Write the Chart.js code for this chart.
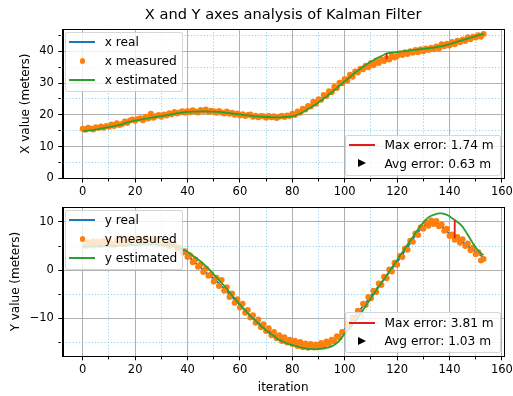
<!DOCTYPE html>
<html>
<head>
<meta charset="utf-8">
<script src="https://cdn.jsdelivr.net/npm/chart.js@4.4.1/dist/chart.umd.min.js"></script>
<style>
  html, body { margin: 0; padding: 0; background: #fff; }
  #wrap { position: relative; width: 513px; height: 396px; overflow: hidden; font-family: "DejaVu Sans", sans-serif; }
  canvas { position: absolute; left: 0; }
  .legend { position: absolute; box-sizing: border-box; background: rgba(255,255,255,0.8); border: 1px solid rgba(204,204,204,0.8); border-radius: 3px; }
  .row { position: absolute; left: 0; right: 0; height: 0; }
  .row .line { position: absolute; left: 3px; width: 25.5px; height: 2px; top: -1px; }
  .row .dot { position: absolute; left: 13.5px; width: 5.5px; height: 5.5px; top: -2.75px; border-radius: 50%; }
  .row .tri { position: absolute; left: 12.3px; top: -4.5px; width: 0; height: 0; border-top: 4.5px solid transparent; border-bottom: 4.5px solid transparent; border-left: 8px solid #000; }
  .row .txt { position: absolute; left: 38.5px; top: 0; transform: translateY(-50%); font-size: 12.2px; line-height: 14px; white-space: nowrap; color: #000; }
</style>
</head>
<body>
<div id="wrap">
  <canvas id="xChart" width="513" height="196" style="top:0"></canvas>
  <canvas id="yChart" width="513" height="200" style="top:196px"></canvas>
</div>
<script>
// tick values (iterations on x, metres on y)
const ITER_MAJOR = [0, 20, 40, 60, 80, 100, 120, 140, 160];
const ITER_MINOR = [10, 30, 50, 70, 90, 110, 130, 150];
const X_MAJOR = [0, 10, 20, 30, 40];
const X_MINOR = [5, 15, 25, 35, 45];
const Y_MAJOR = [-10, 0, 10];
const Y_MINOR = [-15, -5, 5];

const X_AVG_ERR = 0.63;
const Y_AVG_ERR = 1.03;

// X position, one value per iteration
const xReal = [
  15.3, 15.4, 15.5, 15.6, 15.7, 15.8, 15.9, 16.0, 16.1, 16.3,
  16.4, 16.6, 16.8, 16.9, 17.1, 17.3, 17.5, 17.7, 17.9, 18.1,
  18.3, 18.4, 18.6, 18.7, 18.9, 19.0, 19.1, 19.2, 19.4, 19.5,
  19.6, 19.8, 19.9, 20.1, 20.2, 20.4, 20.5, 20.6, 20.7, 20.8,
  20.9, 21.0, 21.0, 21.1, 21.1, 21.1, 21.1, 21.1, 21.1, 21.0,
  21.0, 20.9, 20.8, 20.8, 20.7, 20.6, 20.5, 20.4, 20.2, 20.1,
  20.0, 19.9, 19.8, 19.7, 19.7, 19.6, 19.5, 19.5, 19.4, 19.4,
  19.3, 19.3, 19.3, 19.3, 19.3, 19.3, 19.4, 19.5, 19.6, 19.7,
  19.9, 20.2, 20.6, 21.0, 21.5, 22.0, 22.5, 23.0, 23.5, 24.0,
  24.5, 25.1, 25.7, 26.3, 26.9, 27.6, 28.2, 28.9, 29.5, 30.2,
  30.8, 31.4, 32.0, 32.6, 33.1, 33.6, 34.1, 34.6, 35.0, 35.4,
  35.8, 36.2, 36.5, 36.8, 37.1, 37.35, 37.6, 37.9, 38.2, 38.5,
  38.8, 39.0, 39.2, 39.4, 39.6, 39.8, 39.9, 40.0, 40.1, 40.3,
  40.4, 40.5, 40.6, 40.7, 40.9, 41.0, 41.2, 41.4, 41.6, 41.8,
  42.0, 42.3, 42.5, 42.8, 43.0, 43.3, 43.5, 43.8, 44.0, 44.3,
  44.5, 44.7, 45.0, 45.2
];
const xMeasured = [
  15.6, 15.3, 15.9, 15.7, 15.4, 16.1, 15.8, 16.3, 15.9, 16.5,
  16.2, 16.9, 16.5, 17.3, 16.8, 17.1, 17.9, 17.4, 18.2, 18.5,
  18.1, 18.7, 18.9, 18.3, 19.4, 18.8, 20.3, 19.1, 19.6, 19.9,
  19.4, 20.1, 19.8, 20.5, 20.2, 20.9, 20.4, 20.7, 21.1, 20.6,
  21.2, 20.8, 21.4, 21.0, 20.7, 21.5, 21.2, 21.7, 20.9, 21.3,
  21.1, 20.6, 21.2, 20.7, 20.4, 21.0, 20.3, 20.6, 20.0, 20.4,
  19.8, 20.2, 19.6, 19.9, 20.1, 19.4, 19.7, 19.2, 19.6, 19.5,
  19.1, 19.6, 19.2, 19.5, 19.0, 19.4, 19.7, 19.3, 19.8, 19.6,
  20.3, 19.9, 21.0, 20.6, 21.9, 21.7, 22.8, 22.6, 24.1, 23.5,
  24.9, 24.7, 26.2, 25.9, 27.4, 27.1, 28.8, 28.4, 30.1, 29.9,
  31.3, 30.8, 32.6, 32.0, 33.6, 33.3, 34.5, 34.3, 35.4, 35.0,
  36.3, 35.6, 37.0, 36.3, 37.5, 36.9, 37.8, 37.4, 38.6, 38.0,
  38.5, 39.3, 38.8, 39.7, 39.1, 40.0, 39.5, 40.4, 39.7, 40.6,
  40.0, 40.9, 40.4, 41.1, 40.6, 41.5, 40.9, 42.2, 41.6, 42.4,
  41.8, 42.9, 42.2, 43.3, 42.8, 43.7, 43.2, 44.4, 43.8, 44.6,
  44.3, 45.0, 44.6, 45.4
];
const xEstimated = [
  14.8, 14.9, 15.0, 15.1, 15.2, 15.4, 15.5, 15.7, 15.8, 16.0,
  16.1, 16.3, 16.5, 16.6, 16.8, 17.0, 17.3, 17.6, 17.8, 18.0,
  18.2, 18.3, 18.5, 18.6, 18.8, 18.9, 19.1, 19.2, 19.3, 19.5,
  19.6, 19.7, 19.9, 20.0, 20.2, 20.3, 20.5, 20.6, 20.7, 20.8,
  20.9, 20.9, 21.0, 21.0, 21.0, 21.1, 21.1, 21.1, 21.0, 21.0,
  21.0, 20.9, 20.9, 20.8, 20.7, 20.6, 20.5, 20.4, 20.3, 20.2,
  20.1, 20.0, 19.9, 19.8, 19.7, 19.6, 19.5, 19.5, 19.4, 19.4,
  19.3, 19.3, 19.2, 19.2, 19.2, 19.2, 19.2, 19.3, 19.3, 19.4,
  19.5, 19.7, 20.0, 20.4, 20.8, 21.3, 21.8, 22.3, 22.8, 23.3,
  23.9, 24.5, 25.1, 25.7, 26.4, 27.0, 27.7, 28.4, 29.1, 29.8,
  30.5, 31.2, 31.9, 32.6, 33.3, 33.9, 34.5, 35.1, 35.7, 36.2,
  36.7, 37.2, 37.7, 38.1, 38.5, 38.9, 39.34, 39.45, 39.55, 39.65,
  39.75, 39.85, 39.95, 40.05, 40.15, 40.25, 40.35, 40.45, 40.55, 40.65,
  40.75, 40.85, 40.95, 41.05, 41.15, 41.3, 41.45, 41.6, 41.8, 42.0,
  42.25, 42.5, 42.75, 43.0, 43.25, 43.5, 43.75, 44.0, 44.25, 44.5,
  44.75, 45.0, 45.25, 45.5
];

// Y position, one value per iteration
const yReal = [
  5.3, 5.3, 5.4, 5.4, 5.5, 5.5, 5.5, 5.6, 5.6, 5.7,
  5.7, 5.7, 5.8, 5.8, 5.8, 5.9, 5.9, 5.9, 6.0, 6.0,
  6.0, 6.0, 6.1, 6.1, 6.1, 6.1, 6.1, 6.0, 6.0, 5.9,
  5.8, 5.7, 5.6, 5.4, 5.2, 5.0, 4.7, 4.3, 3.9, 3.5,
  3.0, 2.5, 2.0, 1.5, 1.0, 0.5, 0.0, -0.5, -0.9, -1.4,
  -1.8, -2.3, -2.8, -3.4, -3.9, -4.5, -5.1, -5.6, -6.2, -6.7,
  -7.3, -7.8, -8.4, -8.9, -9.5, -10.0, -10.5, -10.9, -11.4, -11.9,
  -12.3, -12.7, -13.1, -13.4, -13.7, -14.0, -14.3, -14.5, -14.7, -14.9,
  -15.0, -15.2, -15.3, -15.4, -15.5, -15.6, -15.7, -15.7, -15.8, -15.8,
  -15.7, -15.6, -15.5, -15.3, -15.1, -14.8, -14.5, -14.1, -13.6, -13.1,
  -12.4, -11.7, -11.0, -10.3, -9.6, -8.9, -8.2, -7.5, -6.8, -6.1,
  -5.4, -4.7, -4.0, -3.3, -2.6, -1.9, -1.2, -0.5, 0.2, 0.9,
  1.6, 2.4, 3.2, 4.0, 4.8, 5.6, 6.4, 7.2, 7.9, 8.5,
  9.0, 9.4, 9.7, 9.9, 10.0, 9.8, 9.5, 9.1, 8.6, 8.1,
  7.5, 7.0, 6.6, 6.4, 6.1, 5.8, 5.4, 5.0, 4.6, 4.2,
  3.8, 3.4, 3.0, 2.6
];
const yMeasured = [
  6.4, 5.0, 5.8, 5.1, 6.0, 5.3, 5.9, 5.2, 6.1, 5.4,
  6.2, 5.5, 5.2, 6.3, 5.6, 6.1, 5.4, 6.4, 5.8, 6.2,
  6.6, 5.7, 6.4, 5.9, 6.7, 6.3, 5.8, 6.5, 6.2, 5.4,
  6.2, 5.3, 5.9, 5.0, 5.6, 5.4, 4.4, 4.7, 3.6, 3.9,
  2.7, 3.1, 1.6, 2.2, 0.7, 1.2, -0.4, 0.3, -1.2, -0.9,
  -2.4, -1.6, -3.3, -2.1, -4.3, -3.6, -5.6, -4.9, -6.8, -6.1,
  -7.8, -7.0, -8.9, -8.3, -9.9, -9.4, -11.0, -10.3, -11.9, -11.3,
  -12.7, -12.1, -13.6, -12.9, -14.2, -13.6, -14.8, -14.0, -15.1, -14.5,
  -15.4, -14.7, -15.8, -15.0, -16.1, -15.3, -16.2, -15.4, -16.0, -15.5,
  -16.1, -15.2, -15.9, -14.9, -15.4, -14.5, -14.9, -13.8, -14.1, -12.9,
  -12.9, -11.3, -11.5, -9.9, -10.1, -8.5, -8.7, -7.0, -7.3, -5.6,
  -5.9, -4.3, -4.6, -2.8, -3.1, -1.4, -1.7, 0.1, -0.3, 1.5,
  1.1, 2.9, 2.7, 4.5, 4.2, 6.1, 5.9, 7.6, 7.3, 8.9,
  8.6, 9.9, 9.2, 10.3, 9.6, 10.2, 9.1, 9.5, 8.2, 8.6,
  7.1, 7.4, 6.3, 6.9, 5.7, 6.4, 5.0, 5.5, 4.1, 4.7,
  3.3, 3.7, 2.0, 2.3
];
const yEstimated = [
  4.8, 4.8, 4.9, 4.9, 4.9, 4.9, 4.9, 5.0, 5.0, 5.0,
  5.0, 5.0, 5.0, 5.1, 5.1, 5.1, 5.1, 5.1, 5.2, 5.2,
  5.2, 5.2, 5.3, 5.3, 5.3, 5.3, 5.3, 5.3, 5.3, 5.3,
  5.3, 5.2, 5.2, 5.1, 5.0, 4.9, 4.8, 4.6, 4.3, 4.1,
  3.8, 3.4, 3.0, 2.6, 2.2, 1.8, 1.3, 0.8, 0.3, -0.3,
  -0.9, -1.5, -2.1, -2.7, -3.3, -3.9, -4.6, -5.3, -5.9, -6.6,
  -7.2, -7.8, -8.4, -9.0, -9.6, -10.1, -10.6, -11.1, -11.6, -12.1,
  -12.6, -13.0, -13.4, -13.8, -14.2, -14.5, -14.8, -15.1, -15.3, -15.5,
  -15.6, -15.8, -15.9, -16.1, -16.2, -16.3, -16.4, -16.4, -16.5, -16.5,
  -16.4, -16.4, -16.3, -16.2, -16.1, -15.9, -15.6, -15.2, -14.7, -14.0,
  -13.2, -12.6, -12.0, -11.3, -10.6, -9.9, -9.1, -8.3, -7.5, -6.7,
  -5.9, -5.1, -4.3, -3.5, -2.7, -1.9, -1.1, -0.3, 0.5, 1.3,
  2.1, 2.9, 3.7, 4.5, 5.3, 6.1, 6.9, 7.7, 8.5, 9.2,
  9.9, 10.5, 11.0, 11.3, 11.5, 11.7, 11.8, 11.8, 11.7, 11.5,
  11.2, 10.78, 10.41, 10.0, 9.6, 9.0, 8.2, 7.3, 6.4, 5.5,
  4.7, 4.0, 3.5, 3.1
];

const BLUE = '#1f77b4';
const ORANGE = '#ff7f0e';
const GREEN = '#2ca02c';
const RED = '#e41a1c';
const MAJOR_GRID = '#b0b0b0';
const MINOR_GRID = 'rgba(120, 200, 230, 0.8)';

Chart.defaults.font.family = "'DejaVu Sans', sans-serif";
Chart.defaults.color = '#000';

const fmt = (v) => (v < 0 ? '\u2212' + Math.abs(v) : String(v));
const points = (values) => values.map((v, i) => ({ x: i, y: v }));

// iteration where the estimate is furthest from the true value
function maxError(real, est) {
  let best = 0;
  real.forEach((v, i) => {
    if (Math.abs(est[i] - v) > Math.abs(est[best] - real[best])) best = i;
  });
  return { index: best, value: Math.abs(est[best] - real[best]) };
}

function datasets(real, measured, est, err) {
  return [
    {
      data: [{ x: err.index, y: real[err.index] }, { x: err.index, y: est[err.index] }],
      showLine: true, borderColor: RED, borderWidth: 1.8, pointRadius: 0, order: 0,
    },
    { data: points(est), showLine: true, borderColor: GREEN, borderWidth: 1.8, pointRadius: 0, order: 1 },
    {
      data: points(measured), showLine: false, pointRadius: 3, pointBorderWidth: 0,
      pointBackgroundColor: ORANGE, order: 2,
    },
    { data: points(real), showLine: true, borderColor: BLUE, borderWidth: 1.8, pointRadius: 0, order: 3 },
  ];
}

function gridAxis(major, minor, opts) {
  const isMinor = (ctx) => !!ctx.tick && minor.includes(ctx.tick.value);
  return {
    type: 'linear',
    min: opts.min,
    max: opts.max,
    afterBuildTicks: (scale) => {
      scale.ticks = major.concat(minor).sort((a, b) => a - b).map((v) => ({ value: v }));
    },
    afterFit: (scale) => {
      if (opts.width !== undefined) scale.width = opts.width;
      if (opts.height !== undefined) scale.height = opts.height;
      scale.paddingLeft = 0;
      scale.paddingRight = 0;
      scale.paddingTop = 0;
      scale.paddingBottom = 0;
    },
    ticks: {
      autoSkip: false,
      maxRotation: 0,
      padding: opts.pad,
      color: '#000',
      font: { size: 11.5 },
      callback: (v) => (minor.includes(v) ? '' : fmt(v)),
    },
    grid: {
      color: (ctx) => (isMinor(ctx) ? MINOR_GRID : MAJOR_GRID),
      lineWidth: 1,
      tickLength: 4.3,
      tickColor: '#000',
      tickWidth: 1,
      tickBorderDash: (ctx) => (isMinor(ctx) ? [2.4, 20] : []),
    },
    border: { color: '#000', width: 1, dash: (ctx) => (isMinor(ctx) ? [1.2, 2] : []) },
    title: opts.title
      ? { display: true, text: opts.title, color: '#000', font: { size: 12 }, padding: opts.titlePad }
      : { display: false },
  };
}

// black box round the plot area
const frame = {
  id: 'frame',
  afterDraw(chart) {
    const { ctx, chartArea: a } = chart;
    ctx.save();
    ctx.strokeStyle = '#000';
    ctx.lineWidth = 1;
    ctx.strokeRect(Math.round(a.left) + 0.5, Math.round(a.top) + 0.5,
      Math.round(a.right - a.left), Math.round(a.bottom - a.top));
    ctx.restore();
  },
};

function makeChart(id, real, measured, est, cfg) {
  const err = maxError(real, est);
  const chart = new Chart(document.getElementById(id), {
    type: 'scatter',
    data: { datasets: datasets(real, measured, est, err) },
    options: {
      responsive: false,
      animation: false,
      events: [],
      devicePixelRatio: 1,
      layout: { padding: cfg.padding },
      plugins: {
        legend: { display: false },
        tooltip: { enabled: false },
        title: cfg.title || { display: false },
      },
      scales: { x: cfg.x, y: cfg.y },
    },
    plugins: [frame],
  });
  return { chart, err };
}

function addLegend(chart, offsetTop, corner, width, rows) {
  const a = chart.chartArea;
  const height = 10.3 + (rows.length - 1) * 18.8 + 12;
  const box = document.createElement('div');
  box.className = 'legend';
  box.style.width = width + 'px';
  box.style.height = height + 'px';
  if (corner === 'tl') {
    box.style.left = (a.left + 2.5) + 'px';
    box.style.top = (offsetTop + a.top + 2.7) + 'px';
  } else {
    box.style.left = (a.right - 2.6 - width) + 'px';
    box.style.top = (offsetTop + a.bottom - 2.6 - height) + 'px';
  }
  rows.forEach((r, i) => {
    const row = document.createElement('div');
    row.className = 'row';
    row.style.top = (9.3 + i * 18.8) + 'px';
    const mark = document.createElement('div');
    mark.className = r.kind;
    if (r.color) mark.style.background = r.color;
    const txt = document.createElement('div');
    txt.className = 'txt';
    txt.textContent = r.text;
    row.appendChild(mark);
    row.appendChild(txt);
    box.appendChild(row);
  });
  document.getElementById('wrap').appendChild(box);
}

const xPlot = makeChart('xChart', xReal, xMeasured, xEstimated, {
  padding: { left: 0, right: 9.4, top: 0, bottom: 0 },
  title: {
    display: true,
    text: 'X and Y axes analysis of Kalman Filter',
    fullSize: false,
    color: '#000',
    font: { size: 14.6, weight: 'normal' },
    padding: { top: 6.5, bottom: 5 },
  },
  x: gridAxis(ITER_MAJOR, ITER_MINOR, { min: -7.65, max: 160.65, height: 17.7, pad: 3 }),
  y: gridAxis(X_MAJOR, X_MINOR, {
    min: 0, max: 47, width: 62.7, pad: 4.5,
    title: 'X value (meters)', titlePad: { top: 18.8, bottom: 0 },
  }),
});

const yPlot = makeChart('yChart', yReal, yMeasured, yEstimated, {
  padding: { left: 0, right: 9.4, top: 11.3, bottom: 0 },
  x: gridAxis(ITER_MAJOR, ITER_MINOR, {
    min: -7.65, max: 160.65, height: 40, pad: 3,
    title: 'iteration', titlePad: { top: 0, bottom: 1.1 },
  }),
  y: gridAxis(Y_MAJOR, Y_MINOR, {
    min: -17.9, max: 13.06, width: 62.7, pad: 4.5,
    title: 'Y value (meters)', titlePad: { top: 8.3, bottom: 0 },
  }),
});

addLegend(xPlot.chart, 0, 'tl', 118.3, [
  { kind: 'line', color: BLUE, text: 'x real' },
  { kind: 'dot', color: ORANGE, text: 'x measured' },
  { kind: 'line', color: GREEN, text: 'x estimated' },
]);
addLegend(xPlot.chart, 0, 'br', 156, [
  { kind: 'line', color: RED, text: 'Max error: ' + xPlot.err.value.toFixed(2) + ' m' },
  { kind: 'tri', text: 'Avg error: ' + X_AVG_ERR.toFixed(2) + ' m' },
]);
addLegend(yPlot.chart, 196, 'tl', 118.3, [
  { kind: 'line', color: BLUE, text: 'y real' },
  { kind: 'dot', color: ORANGE, text: 'y measured' },
  { kind: 'line', color: GREEN, text: 'y estimated' },
]);
addLegend(yPlot.chart, 196, 'br', 156, [
  { kind: 'line', color: RED, text: 'Max error: ' + yPlot.err.value.toFixed(2) + ' m' },
  { kind: 'tri', text: 'Avg error: ' + Y_AVG_ERR.toFixed(2) + ' m' },
]);
</script>
</body>
</html>
